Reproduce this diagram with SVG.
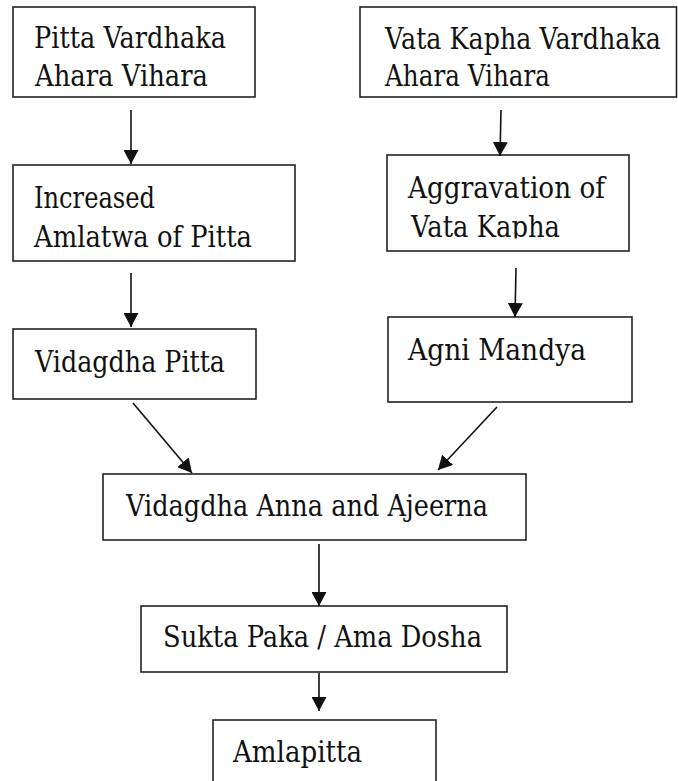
<svg xmlns="http://www.w3.org/2000/svg" width="678" height="781" viewBox="0 0 678 781">
<style>
.box{fill:#fff;stroke:#222;stroke-width:1.6}
.t{font-family:'DejaVu Serif',serif;font-size:29px;fill:#111}
.c{stroke:#111;stroke-width:1.6;fill:none}
</style>
<defs>
<marker id="ah" markerUnits="userSpaceOnUse" markerWidth="15" markerHeight="15" refX="14" refY="7.5" orient="auto">
<path d="M0,0 L14,7.5 L0,15 z" fill="#111"/>
</marker>
<clipPath id="c1"><rect x="13" y="50" width="242" height="37.5"/></clipPath>
<clipPath id="c2"><rect x="360" y="50" width="317" height="37.5"/></clipPath>
<clipPath id="c4"><rect x="387" y="200" width="242" height="38.5"/></clipPath>
</defs>
<rect width="678" height="781" fill="#fff"/>
<g id="n1">
<rect class="box" x="13" y="7" width="242" height="90"/>
<text class="t" x="34" y="48" textLength="192" lengthAdjust="spacingAndGlyphs">Pitta Vardhaka</text>
<text class="t" x="35" y="86" textLength="173" lengthAdjust="spacingAndGlyphs" clip-path="url(#c1)">Ahara Vihara</text>
</g>
<g id="n2">
<rect class="box" x="360" y="7" width="316.5" height="90"/>
<text class="t" x="385" y="49" textLength="276" lengthAdjust="spacingAndGlyphs">Vata Kapha Vardhaka</text>
<text class="t" x="385" y="86" textLength="165" lengthAdjust="spacingAndGlyphs" clip-path="url(#c2)">Ahara Vihara</text>
</g>
<g id="n3">
<rect class="box" x="13" y="165" width="282" height="96"/>
<text class="t" x="34" y="208" textLength="121" lengthAdjust="spacingAndGlyphs">Increased</text>
<text class="t" x="34" y="247" textLength="218" lengthAdjust="spacingAndGlyphs">Amlatwa of Pitta</text>
</g>
<g id="n4">
<rect class="box" x="387" y="155" width="242" height="96"/>
<text class="t" x="408" y="198" textLength="197" lengthAdjust="spacingAndGlyphs">Aggravation of</text>
<text class="t" x="411" y="237" textLength="149" lengthAdjust="spacingAndGlyphs" clip-path="url(#c4)">Vata Kapha</text>
</g>
<g id="n5">
<rect class="box" x="13" y="329" width="243" height="70"/>
<text class="t" x="35" y="372" textLength="190" lengthAdjust="spacingAndGlyphs">Vidagdha Pitta</text>
</g>
<g id="n6">
<rect class="box" x="388" y="317" width="244" height="85"/>
<text class="t" x="408" y="360" textLength="178" lengthAdjust="spacingAndGlyphs">Agni Mandya</text>
</g>
<g id="n7">
<rect class="box" x="103" y="474" width="423" height="66"/>
<text class="t" x="126" y="516" textLength="362" lengthAdjust="spacingAndGlyphs">Vidagdha Anna and Ajeerna</text>
</g>
<g id="n8">
<rect class="box" x="141" y="606" width="366" height="66"/>
<text class="t" x="163" y="647" textLength="319" lengthAdjust="spacingAndGlyphs">Sukta Paka / Ama Dosha</text>
</g>
<g id="n9">
<rect class="box" x="213" y="720" width="223" height="75"/>
<text class="t" x="233" y="762" textLength="129" lengthAdjust="spacingAndGlyphs">Amlapitta</text>
</g>
<g id="connectors">
<line class="c" x1="131" y1="110" x2="131" y2="164" marker-end="url(#ah)"/>
<line class="c" x1="501" y1="110" x2="500" y2="156" marker-end="url(#ah)"/>
<line class="c" x1="131" y1="273" x2="131" y2="327" marker-end="url(#ah)"/>
<line class="c" x1="516" y1="268" x2="515" y2="317" marker-end="url(#ah)"/>
<line class="c" x1="133" y1="403" x2="192" y2="473" marker-end="url(#ah)"/>
<line class="c" x1="497" y1="407" x2="438" y2="470" marker-end="url(#ah)"/>
<line class="c" x1="319" y1="544" x2="319" y2="606" marker-end="url(#ah)"/>
<line class="c" x1="319" y1="673" x2="319" y2="711" marker-end="url(#ah)"/>
</g>
</svg>
